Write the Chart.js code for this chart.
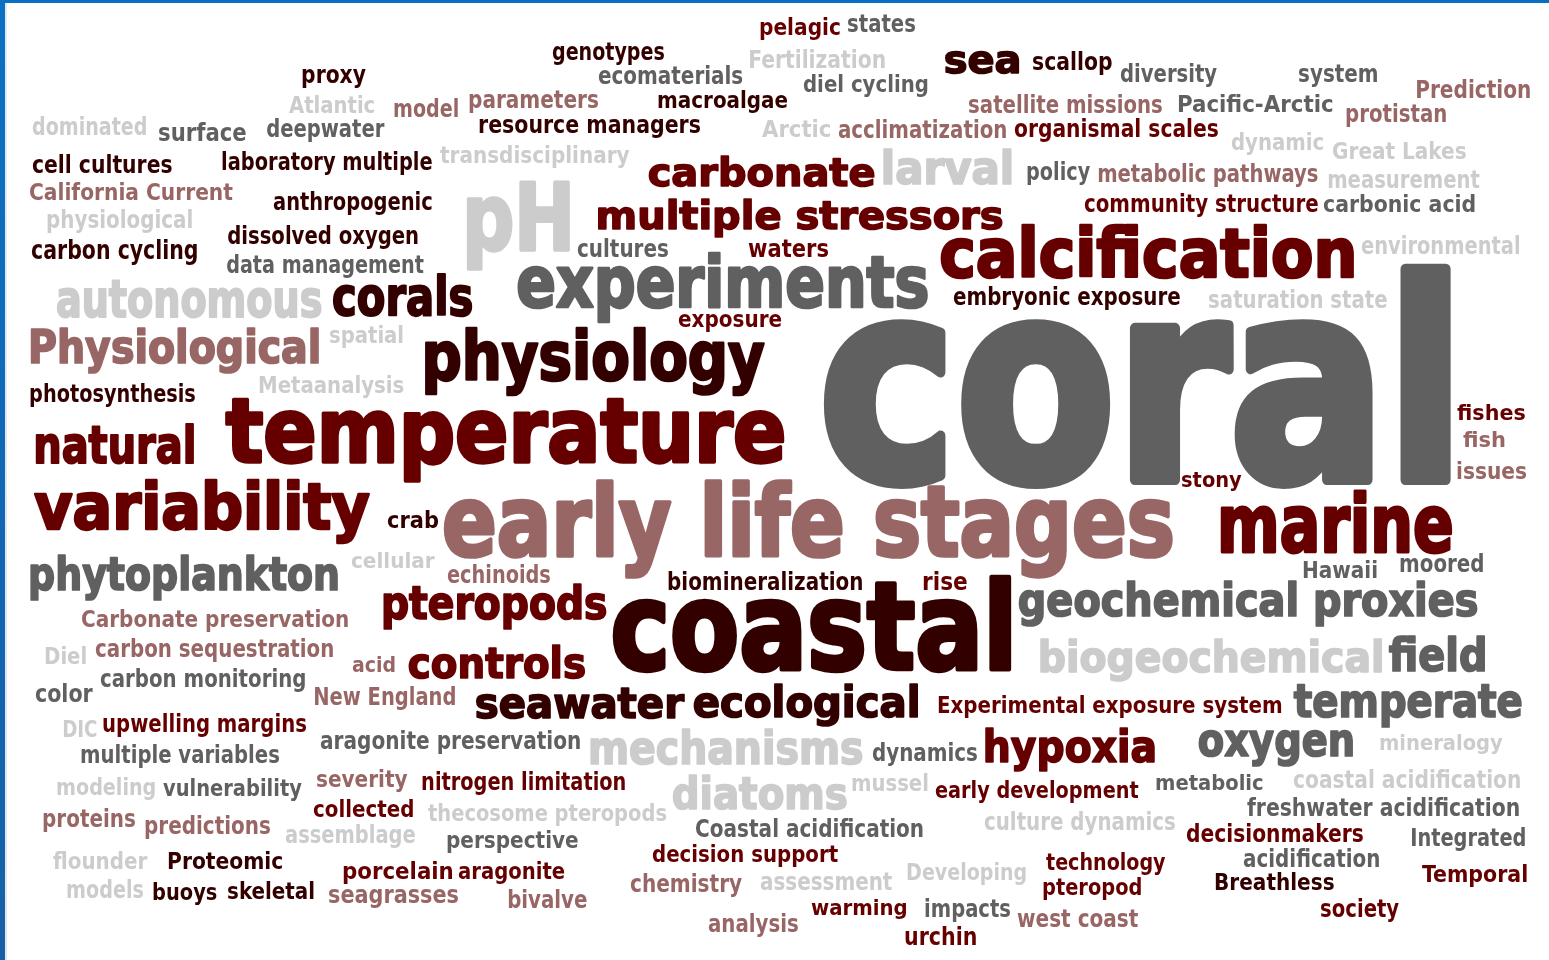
<!DOCTYPE html>
<html><head><meta charset="utf-8">
<script src="https://cdn.jsdelivr.net/npm/chart.js@4.4.1/dist/chart.umd.min.js"></script>
<style>html,body{margin:0;padding:0;background:#fff;overflow:hidden}#wrap{position:relative;width:1549px;height:960px}</style>
</head><body><div id="wrap"><canvas id="c"></canvas></div>
<script>
// Word cloud terms
const words = ["proxy","Atlantic","dominated","surface","deepwater","cell cultures","laboratory multiple","California Current","physiological","anthropogenic","dissolved oxygen","carbon cycling","data management","autonomous","corals","genotypes","ecomaterials","model","parameters","macroalgae","resource managers","transdisciplinary","pH","cultures","carbonate","multiple stressors","waters","experiments","pelagic","states","Fertilization","sea","scallop","diversity","diel cycling","satellite missions","Arctic","acclimatization","organismal scales","larval","policy","metabolic pathways","community structure","calcification","embryonic exposure","system","Prediction","Pacific-Arctic","protistan","dynamic","Great Lakes","measurement","carbonic acid","environmental","saturation state","coral","Physiological","spatial","Metaanalysis","photosynthesis","natural","temperature","variability","crab","phytoplankton","cellular","Carbonate preservation","exposure","physiology","early life stages","echinoids","biomineralization","pteropods","coastal","stony","rise","geochemical proxies","fishes","fish","issues","marine","Hawaii","moored","field","biogeochemical","Diel","carbon sequestration","acid","carbon monitoring","color","New England","DIC","upwelling margins","aragonite preservation","multiple variables","modeling","vulnerability","severity","collected","proteins","predictions","assemblage","flounder","Proteomic","porcelain","aragonite","models","buoys","skeletal","seagrasses","controls","seawater","ecological","mechanisms","nitrogen limitation","diatoms","thecosome pteropods","perspective","Coastal acidification","decision support","chemistry","assessment","bivalve","analysis","Experimental exposure system","temperate","dynamics","hypoxia","oxygen","mineralogy","mussel","early development","metabolic","coastal acidification","culture dynamics","freshwater acidification","decisionmakers","Integrated","acidification","Temporal","Breathless","society","Developing","technology","pteropod","warming","impacts","west coast","urchin"];
// left edge of each word (layout x units)
const xLeft = [302,289,32,159,267,32,222,30,47,273,228,32,227,56,333,552,598,394,469,658,479,440,466,577,648,597,748,517,760,848,750,944,1033,1120,803,969,762,838,1014,883,1027,1098,1084,940,953,1299,1417,1178,1346,1231,1333,1328,1323,1361,1209,822,30,330,259,30,35,225,33,387,30,351,82,678,425,443,447,668,383,612,1182,923,1018,1457,1463,1457,1220,1303,1400,1388,1040,45,95,352,100,35,315,63,103,320,81,57,163,317,313,43,145,285,53,168,343,458,67,153,228,329,408,475,693,590,422,672,428,447,696,652,630,760,508,708,938,1293,872,985,1198,1380,852,935,1156,1293,984,1247,1186,1412,1243,1422,1215,1321,907,1046,1043,811,925,1017,905];
// right edge of each word
const xRight = [366,374,146,246,385,172,432,233,192,432,418,197,424,322,473,664,743,458,598,788,700,630,570,668,875,1003,828,928,840,915,885,1020,1112,1217,928,1162,830,1006,1218,1012,1090,1318,1318,1354,1180,1377,1530,1333,1446,1323,1466,1480,1475,1519,1387,1451,319,403,404,195,194,785,370,438,338,435,348,782,765,1173,550,862,607,1012,1242,967,1478,1525,1505,1527,1453,1377,1483,1485,1383,86,333,395,305,93,455,97,306,580,279,155,302,408,413,135,270,415,148,282,453,565,143,217,314,458,585,685,918,863,625,847,667,578,923,838,742,892,587,798,1281,1522,977,1155,1353,1503,928,1139,1263,1520,1175,1519,1363,1525,1379,1527,1334,1399,1026,1166,1141,907,1010,1138,976];
// baseline of each word
const yBase = [83,112.5,135,141,137,173,169.5,199.5,227.5,210,244,258.5,273,318,316,60,84.3,116.7,108.3,108.3,132.7,163.3,252,256.7,186.7,230,256.7,308,35,31.7,68.3,73.3,70,81.7,91.7,113.3,136.7,138.3,136.7,185,180,181.7,211.7,278.3,305,81.7,98.3,111.7,121.7,150,159.3,188.3,212.3,254,308.3,485,364,343.3,392.7,401.7,464,464,530,528.3,590.7,568.3,626.7,326.7,381.7,558.3,583.3,590,620,671.5,486.7,590,616.7,420,447.3,479,553.3,577.7,571.7,671.7,673.3,664.3,656.7,671.7,686.7,701.7,705,736.7,731.7,749.3,763.3,795,795.7,786.7,817.3,826.7,834,843.3,869.3,869.3,879.3,879.3,898.3,900,899.3,903.3,678.3,718.3,717.5,765,790,810,820.7,848.3,836.7,862.3,891.7,890,908.3,931.7,712.7,718.3,760.7,763.3,756.7,750,790.7,798.3,790,788.3,830,816,841.7,846,866.7,881.7,890,916.7,880,870,895,915,916.7,926.7,945];
// x-height of each word (weight of the term)
const xHeight = [14,12.7,13.3,13.3,14,14,13.3,12.7,13.3,13.3,14,14.3,14,30,31,13.3,13.6,13.3,13.3,12.7,13.3,12.7,54,13.3,23.3,23.3,13.3,41.5,12.3,13.3,14,23.3,13.3,13.3,12.7,13.3,12.7,13.3,13.3,26.7,13.3,14,13.3,40,13.3,13.3,13.3,13,13.3,12.7,13,14,13,14,13.3,163,27.3,12.7,12.7,13.3,30,52,38,12.7,26.7,12,12.3,12.7,40,58,13.3,13.3,26.7,71,12,13.3,26.7,12,12,12.3,46.7,12.7,13.3,26.7,25.3,13,13.3,12,13.3,13.3,13.3,13,13.3,13.3,13.3,12.3,13,12.7,12.3,13.3,13.3,13.3,12.7,12.7,12.7,12.7,13.3,12.7,12.7,13.3,25,25,25,26.7,13.3,26,12.3,12.3,14,13,13.3,13.3,14,13.3,12.7,26.7,13.3,26,26.7,12,12.3,12.3,12,13.3,13.3,14,13.3,13.3,13.3,13,13,13.3,13,12.7,12.3,11.7,13.3,13.3,13.3];
// colour group of each word
const tone = ["D","L","L","G","G","D","D","P","L","D","D","D","G","L","D","D","G","P","P","D","D","L","L","G","R","R","R","G","R","G","L","D","D","G","G","P","L","P","R","L","G","P","R","R","D","G","P","G","P","L","L","L","G","L","L","G","P","L","L","D","R","R","R","D","G","L","P","R","D","P","P","D","R","D","R","R","G","R","P","P","R","G","G","G","L","L","P","P","G","G","P","L","R","G","G","L","G","P","R","P","P","L","L","D","R","R","L","D","D","P","R","D","D","L","R","L","L","G","G","R","P","L","P","P","R","G","G","R","G","L","L","R","G","L","L","G","R","G","G","R","D","R","L","R","R","R","G","P","R"];

const palette = {D:'#330000', R:'#660000', P:'#996666', G:'#606060', L:'#cccccc'};
const FAM = '"DejaVu Sans Condensed","DejaVu Sans",sans-serif';

// extra stroke weight relative to font size (only for large terms, so small i-dots stay open)
function boldenFor(fs) { return fs > 40 ? fs * 0.035 : (fs > 28 ? fs * 0.015 : 0); }

const wordPlugin = {
  id: 'wordText',
  beforeDraw(chart) {
    const c = chart.ctx;
    c.save(); c.fillStyle = '#ffffff'; c.fillRect(0, 0, chart.width, chart.height); c.restore();
  },
  afterDatasetsDraw(chart) {
    const ctx = chart.ctx, xs = chart.scales.x, ys = chart.scales.y;
    const meta = chart.getDatasetMeta(0);
    ctx.save();
    ctx.font = 'bold 100px ' + FAM;
    const xr = ctx.measureText('x').actualBoundingBoxAscent / 100;
    ctx.textBaseline = 'alphabetic';
    ctx.textAlign = 'left';
    ctx.lineJoin = 'round';
    const n = Math.min(words.length, meta.data.length);
    for (let i = 0; i < n; i++) {
      const w = words[i];
      const pt = meta.data[i];
      const px = pt.x, py = pt.y;
      const wPx = xs.getPixelForValue(xRight[i]) - px;
      const hPx = py - ys.getPixelForValue(yBase[i] - xHeight[i]);
      let fs = hPx / xr;
      const lw = boldenFor(fs);
      fs = (hPx - lw) / xr;
      ctx.font = 'bold ' + fs.toFixed(2) + 'px ' + FAM;
      const m = ctx.measureText(w);
      const ink = m.actualBoundingBoxLeft + m.actualBoundingBoxRight;
      const sx = wPx / (ink + lw);
      ctx.save();
      ctx.translate(px, py - lw / 2);
      ctx.scale(sx, 1);
      ctx.fillStyle = palette[tone[i]];
      const tx = m.actualBoundingBoxLeft + lw / 2;
      ctx.fillText(w, tx, 0);
      if (lw > 0) {
        ctx.strokeStyle = palette[tone[i]];
        ctx.lineWidth = lw;
        ctx.strokeText(w, tx, 0);
      }
      ctx.restore();
    }
    ctx.restore();
  },
  afterDraw(chart) {
    const c = chart.ctx;
    c.save();
    c.fillStyle = '#0b6fc1';
    c.fillRect(0, 0, chart.width, 3);
    const g = c.createLinearGradient(0, 0, 0, chart.height);
    g.addColorStop(0, '#0b70c4'); g.addColorStop(1, '#1660a8');
    c.fillStyle = g;
    c.fillRect(0, 0, 5, chart.height);
    c.fillStyle = '#e4e8ee';
    c.fillRect(5, 3, 2, chart.height - 3);
    c.restore();
  }
};

new Chart(document.getElementById('c'), {
  type: 'scatter',
  data: {
    datasets: [{
      label: 'terms',
      data: words.map((w, i) => ({x: xLeft[i], y: yBase[i]})),
      pointRadius: 0,
      pointHoverRadius: 0,
      showLine: false
    }]
  },
  options: {
    responsive: true,
    maintainAspectRatio: false,
    animation: false,
    events: [],
    layout: {padding: 0},
    plugins: {legend: {display: false}, tooltip: {enabled: false}},
    scales: {
      x: {type: 'linear', min: 0, max: 1549, display: false},
      y: {type: 'linear', min: 0, max: 960, reverse: true, display: false}
    }
  },
  plugins: [wordPlugin]
});
</script>
</body></html>
